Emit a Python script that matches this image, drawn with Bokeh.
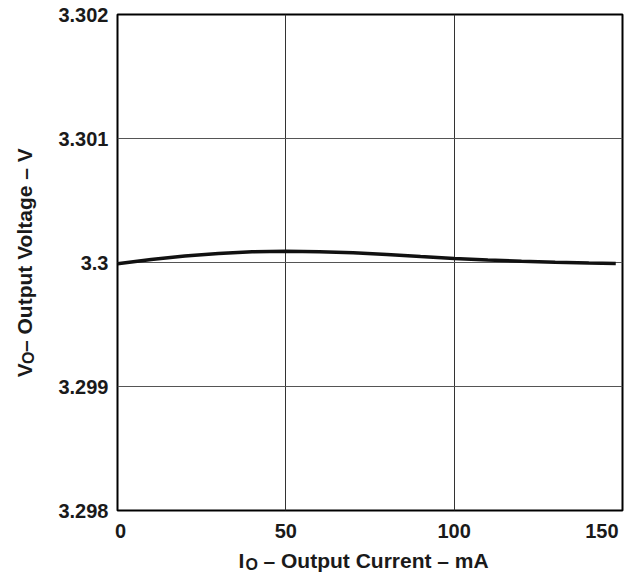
import numpy as np
from bokeh.plotting import figure
from bokeh.models import Range1d, FixedTicker, ColumnDataSource
from bokeh.layouts import row, column
from bokeh.core.properties import value
from bokeh.embed import file_html
from bokeh.resources import INLINE

# Data
current_ma = [0, 10, 20, 30, 40, 50, 60, 70, 80, 90, 100, 110, 120, 130, 140, 148]
voltage_v = [3.29999, 3.300025, 3.300052, 3.300072, 3.300086, 3.30009, 3.300086,
             3.300078, 3.300065, 3.300048, 3.300032, 3.30002, 3.30001, 3.300002,
             3.299995, 3.299992]

x_ticks = [0, 50, 100, 150]
x_tick_labels = ["0", "50", "100", "150"]
y_ticks = [3.298, 3.299, 3.300, 3.301, 3.302]
y_tick_labels = ["3.298", "3.299", "3.3", "3.301", "3.302"]
x_title = ["I", "O", "\u2013 Output Current \u2013 mA"]
y_title = ["V", "O", "\u2013 Output Voltage \u2013 V"]

X0, X1 = 0, 150
Y0, Y1 = 3.298, 3.302

FONT = "Liberation Sans"
TXT = "#1a1a1a"

# layout geometry (pixels)
W, H = 626, 572
LW = 40            # left title strip
MAIN_H = 521
B_H = H - MAIN_H
FRAME_L, FRAME_R = 117, 622   # absolute frame edges


def blank(width, height, xr, yr):
    f = figure(width=width, height=height, output_backend="svg", toolbar_location=None,
               x_range=xr, y_range=yr, x_axis_type=None, y_axis_type=None,
               min_border=0)
    f.outline_line_color = None
    f.xgrid.visible = False
    f.ygrid.visible = False
    f.background_fill_color = "white"
    f.border_fill_color = "white"
    return f


# ---------- main plot ----------
p = figure(width=W - LW, height=MAIN_H, output_backend="svg", toolbar_location=None,
           x_range=Range1d(X0, X1), y_range=Range1d(Y0, Y1),
           min_border_left=FRAME_L - LW, min_border_right=W - FRAME_R,
           min_border_top=14, min_border_bottom=11)
p.background_fill_color = "white"
p.border_fill_color = "white"
p.outline_line_color = "black"
p.outline_line_width = 2

p.xaxis.visible = False
p.xgrid.ticker = FixedTicker(ticks=x_ticks)
p.yaxis.ticker = FixedTicker(ticks=y_ticks)
p.ygrid.ticker = FixedTicker(ticks=y_ticks)
p.xgrid.grid_line_color = "#333333"
p.ygrid.grid_line_color = "#555555"
p.xgrid.grid_line_width = 1
p.ygrid.grid_line_width = 1

p.yaxis.axis_line_color = None
p.yaxis.major_tick_out = 0
p.yaxis.major_tick_in = 0
p.yaxis.minor_tick_out = 0
p.yaxis.minor_tick_in = 0
p.yaxis.major_label_overrides = {t: s for t, s in zip(y_ticks, y_tick_labels)}
p.yaxis.major_label_text_font = FONT
p.yaxis.major_label_text_font_style = "bold"
p.yaxis.major_label_text_font_size = "20px"
p.yaxis.major_label_text_color = TXT
p.yaxis.major_label_standoff = 9

p.line(current_ma, voltage_v, line_color="#111111", line_width=3.5)

# ---------- left strip: y-axis title ----------
left = blank(LW, MAIN_H, Range1d(0, LW), Range1d(0, MAIN_H))
ykw = dict(angle=np.pi / 2, text_align="left", text_baseline="alphabetic",
           text_font=value(FONT), text_font_style="bold", text_color=TXT)
left.text(x=[24], y=[140], text=[y_title[0]], text_font_size="21px", **ykw)
left.text(x=[28], y=[154], text=[y_title[1]], text_font_size="16px", **ykw)
left.text(x=[24], y=[166.5], text=[y_title[2]], text_font_size="21px", **ykw)

# ---------- bottom strip: x tick labels and x-axis title ----------
k = (X1 - X0) / (FRAME_R - FRAME_L)
bottom = blank(W, B_H, Range1d(X0 - FRAME_L * k, X1 + (W - FRAME_R) * k), Range1d(0, B_H))
tick_src = ColumnDataSource(dict(
    x=x_ticks, y=[B_H - 2] * len(x_ticks), text=x_tick_labels,
    align=["center", "center", "center", "right"],
    dx=[3, 0, 0, -4]))
bottom.text(x="x", y="y", text="text", source=tick_src, text_align="align",
            x_offset="dx", text_baseline="top", text_font=value(FONT),
            text_font_style="bold", text_font_size="20px", text_color=TXT)
xkw = dict(text_align="left", text_baseline="alphabetic", text_font=value(FONT),
           text_font_style="bold", text_color=TXT)
bottom.text(x=[(238 - FRAME_L) * k], y=[12], text=[x_title[0]], text_font_size="21px", **xkw)
bottom.text(x=[(245 - FRAME_L) * k], y=[8], text=[x_title[1]], text_font_size="16px", **xkw)
bottom.text(x=[(263 - FRAME_L) * k], y=[12], text=[x_title[2]], text_font_size="21px", **xkw)

layout = column(row(left, p), bottom)

open("out.html", "w").write(file_html(layout, INLINE))
